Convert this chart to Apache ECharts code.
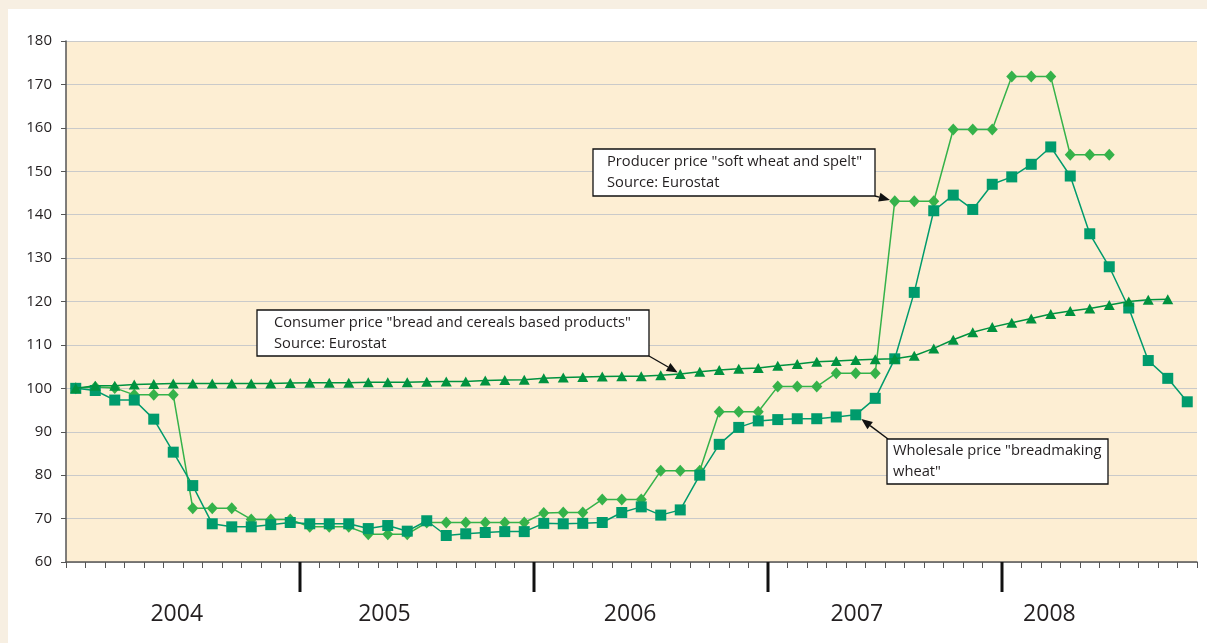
<!DOCTYPE html>
<html><head><meta charset="utf-8">
<script src="https://cdn.jsdelivr.net/npm/echarts@6/dist/echarts.min.js"></script>
<style>html,body{margin:0;padding:0;background:#fff;}#c{width:1207px;height:643px;}</style>
</head><body><div id="c"></div><script>
const categories = [
 'Jan 2004','Feb 2004','Mar 2004','Apr 2004','May 2004','Jun 2004','Jul 2004','Aug 2004','Sep 2004','Oct 2004','Nov 2004','Dec 2004',
 'Jan 2005','Feb 2005','Mar 2005','Apr 2005','May 2005','Jun 2005','Jul 2005','Aug 2005','Sep 2005','Oct 2005','Nov 2005','Dec 2005',
 'Jan 2006','Feb 2006','Mar 2006','Apr 2006','May 2006','Jun 2006','Jul 2006','Aug 2006','Sep 2006','Oct 2006','Nov 2006','Dec 2006',
 'Jan 2007','Feb 2007','Mar 2007','Apr 2007','May 2007','Jun 2007','Jul 2007','Aug 2007','Sep 2007','Oct 2007','Nov 2007','Dec 2007',
 'Jan 2008','Feb 2008','Mar 2008','Apr 2008','May 2008','Jun 2008','Jul 2008','Aug 2008','Sep 2008','Oct 2008'];
const wholesale = [100, 99.5, 97.3, 97.3, 92.9, 85.3, 77.6, 68.8, 68.1, 68.1, 68.6, 69.1,
 68.8, 68.8, 68.8, 67.7, 68.4, 67.1, 69.5, 66.1, 66.5, 66.8, 67.0, 67.0,
 68.9, 68.8, 68.9, 69.1, 71.4, 72.7, 70.8, 72.0, 80.0, 87.1, 91.0, 92.5,
 92.8, 93.0, 93.0, 93.4, 93.9, 97.7, 106.8, 122.1, 140.9, 144.5, 141.2, 147.0,
 148.7, 151.6, 155.6, 148.9, 135.6, 128.0, 118.5, 106.4, 102.3, 96.9];
const producer = [100, 100.3, 100.1, 98.5, 98.5, 98.5, 72.4, 72.4, 72.4, 69.8, 69.8, 69.8,
 68.1, 68.1, 68.1, 66.4, 66.4, 66.4, 69.1, 69.1, 69.1, 69.1, 69.1, 69.1,
 71.3, 71.4, 71.4, 74.4, 74.4, 74.4, 81.0, 81.0, 81.0, 94.6, 94.6, 94.6,
 100.4, 100.4, 100.4, 103.5, 103.5, 103.5, 143.1, 143.1, 143.1, 159.6, 159.6, 159.6,
 171.8, 171.8, 171.8, 153.8, 153.8, 153.8];
const consumer = [100, 100.6, 100.6, 100.9, 101.0, 101.1, 101.1, 101.1, 101.1, 101.1, 101.1, 101.2,
 101.3, 101.3, 101.3, 101.4, 101.4, 101.4, 101.5, 101.6, 101.6, 101.8, 101.9, 102.0,
 102.3, 102.5, 102.6, 102.7, 102.8, 102.8, 103.0, 103.3, 103.8, 104.2, 104.5, 104.7,
 105.2, 105.6, 106.1, 106.3, 106.5, 106.7, 106.8, 107.5, 109.2, 111.2, 112.9, 114.1,
 115.1, 116.1, 117.1, 117.8, 118.4, 119.2, 120.0, 120.4, 120.5];
const yearLabels = ['2004','2005','2006','2007','2008'];
const yTicks = [60, 180, 10]; // min, max, interval

// layout (not data)
const yearLabelPos = [5.18, 15.83, 28.43, 40.05, 49.93];
const FONT = '"Open Sans", "Noto Sans", sans-serif';
const TXT = '#231f20';

const chart = echarts.init(document.getElementById('c'), null, {renderer: 'canvas'});
chart.setOption({
  animation: false,
  backgroundColor: '#ffffff',
  grid: {left: 66, right: 10, top: 41, bottom: 81, show: true, backgroundColor: '#fdeed3', borderWidth: 0},
  xAxis: {
    type: 'category', data: categories, boundaryGap: true,
    axisLine: {lineStyle: {color: '#555', width: 1.5}},
    axisTick: {show: true, interval: 0, length: 6, lineStyle: {color: '#555', width: 1}},
    axisLabel: {show: false}, splitLine: {show: false}
  },
  yAxis: {
    type: 'value', min: yTicks[0], max: yTicks[1], interval: yTicks[2],
    axisLine: {show: true, lineStyle: {color: '#555', width: 1.5}},
    axisTick: {show: true, length: 5, lineStyle: {color: '#555'}},
    axisLabel: {color: TXT, fontSize: 15, fontFamily: FONT, margin: 14},
    splitLine: {lineStyle: {color: '#cacaca', width: 1.2}}
  },
  series: [{
    name: 'Wholesale price "breadmaking wheat"', type: 'line', data: wholesale,
    symbol: 'rect', symbolSize: 11, showAllSymbol: true,
    lineStyle: {color: '#009b6c', width: 1.5}, itemStyle: {color: '#009b6c'}, z: 3
  }, {
    name: 'Producer price "soft wheat and spelt"', type: 'line', data: producer,
    symbol: 'diamond', symbolSize: [11, 12], showAllSymbol: true,
    lineStyle: {color: '#35b24a', width: 1.5}, itemStyle: {color: '#35b24a'}, z: 2
  }, {
    name: 'Consumer price "bread and cereals based products"', type: 'line', data: consumer,
    symbol: 'triangle', symbolSize: [11, 10], showAllSymbol: true,
    lineStyle: {color: '#00923f', width: 1.5}, itemStyle: {color: '#00923f'}, z: 4
  }]
});

function px(idx, val) { return chart.convertToPixel({xAxisIndex: 0, yAxisIndex: 0}, [idx, val]); }
const p0 = chart.convertToPixel({xAxisIndex: 0}, 0), p1 = chart.convertToPixel({xAxisIndex: 0}, 1);
const step = p1 - p0;
const axisY = chart.convertToPixel({yAxisIndex: 0}, yTicks[0]);

const graphics = [
  {type: 'rect', shape: {x: 0, y: 0, width: 1207, height: 9}, style: {fill: '#f7efe2'}, z: -10, silent: true},
  {type: 'rect', shape: {x: 0, y: 0, width: 8, height: 643}, style: {fill: '#f7efe2'}, z: -10, silent: true}
];
// major year ticks at year boundaries
for (let k = 12; k < categories.length; k += 12) {
  const x = Math.round(p0 + (k - 0.5) * step);
  graphics.push({type: 'line', shape: {x1: x, y1: axisY, x2: x, y2: axisY + 30}, style: {stroke: '#111', lineWidth: 3}, z: 10});
}
yearLabels.forEach(function (t, k) {
  graphics.push({type: 'text', x: p0 + yearLabelPos[k] * step, y: 614,
    style: {text: t, font: '23px ' + FONT, fill: TXT, textAlign: 'center', textVerticalAlign: 'middle'}, z: 10});
});

function box(x, y, w, h, lines, tx, ty) {
  graphics.push({type: 'rect', shape: {x: x, y: y, width: w, height: h},
    style: {fill: '#fff', stroke: '#111', lineWidth: 1.3}, z: 20});
  graphics.push({type: 'text', x: tx, y: ty - 10.5,
    style: {text: lines.join('\n'), font: '14.7px ' + FONT, fill: TXT, lineHeight: 21, textVerticalAlign: 'top'}, z: 21});
}
function arrow(sx, sy, pt, back) {
  const dx = pt[0] - sx, dy = pt[1] - sy, L = Math.sqrt(dx * dx + dy * dy);
  const ux = dx / L, uy = dy / L;
  const tx = pt[0] - ux * back, ty = pt[1] - uy * back;
  const hl = 11, hw = 4.5;
  const bx = tx - ux * hl, by = ty - uy * hl;
  graphics.push({type: 'line', shape: {x1: sx, y1: sy, x2: bx, y2: by}, style: {stroke: '#111', lineWidth: 1.4}, z: 19});
  graphics.push({type: 'polygon', shape: {points: [[tx, ty], [bx - uy * hw, by + ux * hw], [bx + uy * hw, by - ux * hw]]},
    style: {fill: '#111'}, z: 19});
}
box(593, 149, 282, 47, ['Producer price "soft wheat and spelt"', 'Source: Eurostat'], 607, 162);
arrow(875, 196, px(42, producer[42]), 5);
box(257, 310, 392, 46, ['Consumer price "bread and cereals based products"', 'Source: Eurostat'], 274, 323);
arrow(649, 356, px(31, consumer[31]), 3);
box(887, 439, 221, 45, ['Wholesale price "breadmaking', 'wheat"'], 893, 451);
arrow(888, 439, px(40, wholesale[40]), 7);

chart.setOption({graphic: graphics});
</script></body></html>
